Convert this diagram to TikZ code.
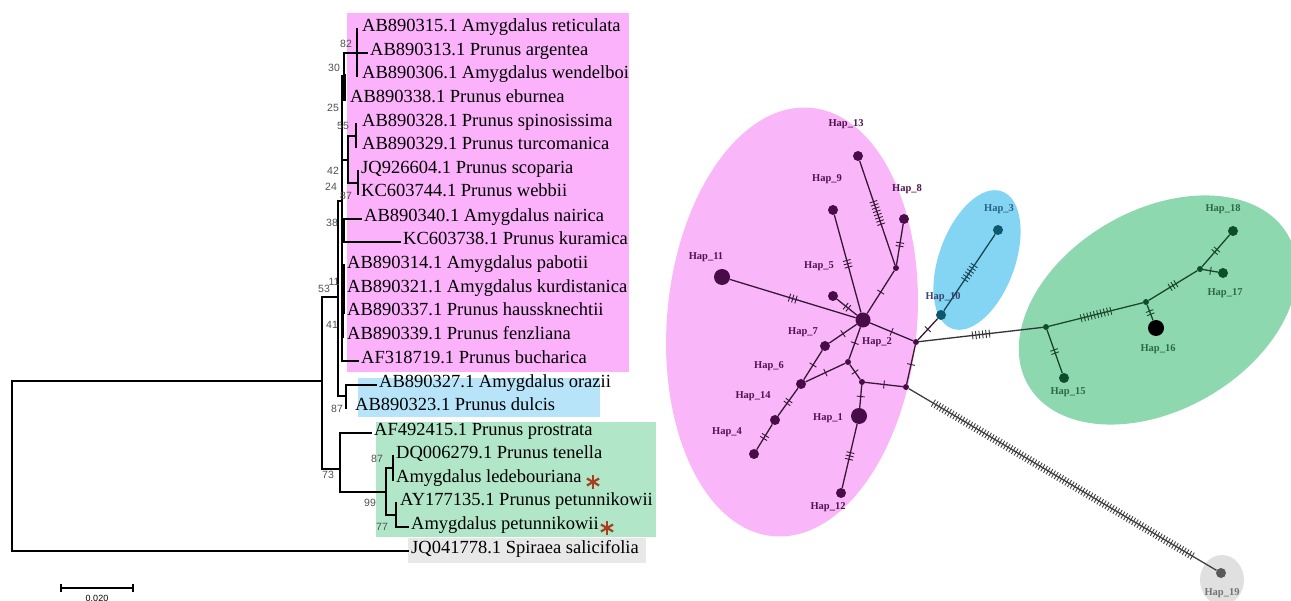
\documentclass[tikz,border=0pt]{standalone}
\usepackage{fontspec}
\setmainfont{Liberation Serif}
\newfontfamily\numfont{Liberation Sans}
\usetikzlibrary{calc,decorations.markings}
\definecolor{pinkbox}{RGB}{251,178,251}
\definecolor{bluebox}{RGB}{183,228,248}
\definecolor{greenbox}{RGB}{178,230,200}
\definecolor{graybox}{RGB}{232,232,232}
\definecolor{pinkell}{RGB}{249,182,248}
\definecolor{blueell}{RGB}{132,212,244}
\definecolor{greenell}{RGB}{142,216,176}
\definecolor{grayell}{RGB}{224,224,224}
\definecolor{nodepur}{RGB}{72,12,72}
\definecolor{edgepur}{RGB}{55,25,55}
\definecolor{labpur}{RGB}{80,20,80}
\definecolor{nodeblu}{RGB}{14,88,110}
\definecolor{labblu}{RGB}{40,100,130}
\definecolor{edgeblu}{RGB}{25,70,85}
\definecolor{nodegrn}{RGB}{14,77,44}
\definecolor{edgegrn}{RGB}{25,70,45}
\definecolor{labgrn}{RGB}{45,105,72}
\definecolor{astcol}{RGB}{168,62,32}
\definecolor{bscol}{RGB}{80,80,80}
\begin{document}
\begin{tikzpicture}[x=1pt,y=-1pt,
  leaf/.style={anchor=west, inner sep=0pt, font=\fontsize{18.5}{20}\selectfont, text height=0.68em, text depth=0.2em},
  br/.style={line width=1.6pt, line cap=rect},
  thickbr/.style={line width=3pt},
  stub/.style={shorten >=3pt},
  bs/.style={font=\numfont\fontsize{10.5}{12}\selectfont, text=bscol, inner sep=0pt},
  ast/.style={draw=astcol, line width=2.2pt},
  hap/.style={circle, fill=nodepur, inner sep=0pt, minimum size=10pt},
  bighap/.style={hap, minimum size=16pt},
  med/.style={circle, fill=nodepur, inner sep=0pt, minimum size=6pt},
  hl/.style={font=\bfseries\fontsize{10.5}{12}\selectfont, text=labpur, inner sep=0pt},
  edge/.style={draw=edgepur, line width=1.3pt},
  hatch/.style n args={3}{postaction={decorate,decoration={markings,mark=at position #2 with {\foreach \i in {1,...,#1}{\draw[#3,line width=0.9pt] ({(\i-(#1+1)/2)*3.4pt},{-4pt}) -- ({(\i-(#1+1)/2)*3.4pt},{4pt});}}}}}
]
\path[use as bounding box] (0,0) rectangle (1291,601);
\clip (0,0) rectangle (1291,601);

% ---------- tree background boxes ----------
\fill[pinkbox] (347,13) rectangle (629,372);
\fill[bluebox] (358,378) rectangle (600,417);
\fill[greenbox] (376,422) rectangle (656,537);
\fill[graybox] (408,538) rectangle (646,563);

% ---------- leaves ----------
\node[leaf] (l1) at (362,29) {AB890315.1 Amygdalus reticulata};
\node[leaf] (l2) at (370,53) {AB890313.1 Prunus argentea};
\node[leaf] (l3) at (362,76) {AB890306.1 Amygdalus wendelboi};
\node[leaf] (l4) at (350,100) {AB890338.1 Prunus eburnea};
\node[leaf] (l5) at (362,124) {AB890328.1 Prunus spinosissima};
\node[leaf] (l6) at (362,147) {AB890329.1 Prunus turcomanica};
\node[leaf] (l7) at (361,171) {JQ926604.1 Prunus scoparia};
\node[leaf] (l8) at (361,194) {KC603744.1 Prunus webbii};
\node[leaf] (l9) at (364,219) {AB890340.1 Amygdalus nairica};
\node[leaf] (l10) at (403,242) {KC603738.1 Prunus kuramica};
\node[leaf] (l11) at (347,266) {AB890314.1 Amygdalus pabotii};
\node[leaf] (l12) at (347,290) {AB890321.1 Amygdalus kurdistanica};
\node[leaf] (l13) at (347,313) {AB890337.1 Prunus haussknechtii};
\node[leaf] (l14) at (347,337) {AB890339.1 Prunus fenzliana};
\node[leaf] (l15) at (361,361) {AF318719.1 Prunus bucharica};
\node[leaf] (l16) at (379,385) {AB890327.1 Amygdalus orazii};
\node[leaf] (l17) at (355,408) {AB890323.1 Prunus dulcis};
\node[leaf] (l18) at (374,433) {AF492415.1 Prunus prostrata};
\node[leaf] (l19) at (396,456) {DQ006279.1 Prunus tenella};
\node[leaf] (l20) at (396,480) {Amygdalus ledebouriana};
\node[leaf] (l21) at (400,503) {AY177135.1 Prunus petunnikowii};
\node[leaf] (l22) at (411,527) {Amygdalus petunnikowii};
\node[leaf] (l23) at (411,551) {JQ041778.1 Spiraea salicifolia};

% ---------- internal nodes ----------
\coordinate (R) at (12,466);
\coordinate (A) at (322,381);
\coordinate (B) at (338,297);
\coordinate (C) at (342,201);
\coordinate (C1) at (344,76);
\coordinate (K) at (357,53);
\coordinate (C4) at (348,160);
\coordinate (C2) at (356,136);
\coordinate (C3) at (358,183);
\coordinate (C5) at (344,231);
\coordinate (C6) at (343,290);
\coordinate (D) at (346,396);
\coordinate (G) at (340,469);
\coordinate (P99) at (386,492);
\coordinate (N87) at (393,468);
\coordinate (N77) at (396,515);

\begin{scope}[br]
\draw (R) |- (A);
\draw[stub] (R) |- (l23.west);
\draw (A) |- (B);
\draw (A) |- (G);
\draw (B) |- (C);
\draw (B) |- (D);
\draw (C) |- (C1);
\draw (C) |- (C4);
\draw (C) |- (C5);
\draw (C) |- (C6);
\draw[stub] (C) |- (l15.west);
\draw (C1) |- (K);
\draw[thickbr] (C1) -- (C1 |- l4.west);
\draw (K) -- (K |- l1.west);
\draw[stub] (K) |- (l2.west);
\draw (K) -- (K |- l3.west);
\draw (C4) |- (C2);
\draw (C4) |- (C3);
\draw (C2) -- (C2 |- l5.west);
\draw (C2) -- (C2 |- l6.west);
\draw (C3) -- (C3 |- l7.west);
\draw (C3) -- (C3 |- l8.west);
\draw[stub] (C5) |- (l9.west);
\draw[stub] (C5) |- (l10.west);
\draw[thickbr] (C6 |- l11.west) -- (C6 |- l13.west);
\draw (C6) -- (C6 |- l11.west);
\draw (C6) -- (C6 |- l14.west);
\draw[stub] (D) |- (l16.west);
\draw (D) -- (D |- l17.west);
\draw[stub] (G) |- (l18.west);
\draw (G) |- (P99);
\draw (P99) |- (N87);
\draw (P99) |- (N77);
\draw (N87) -- (N87 |- l19.west);
\draw (N87) -- (N87 |- l20.west);
\draw (N77) -- (N77 |- l21.west);
\draw[stub] (N77) |- (l22.west);
\end{scope}

% ---------- bootstrap values ----------
\node[bs] (b1) at (346,44) {82};
\node[bs] (b2) at (334,68) {30};
\node[bs] (b3) at (333,108) {25};
\node[bs] (b4) at (343,126) {55};
\node[bs] (b5) at (333,171) {42};
\node[bs] (b6) at (331,187) {24};
\node[bs] (b7) at (346,196) {87};
\node[bs] (b8) at (332,223) {38};
\node[bs] (b9) at (334,282) {11};
\node[bs] (b10) at (324,289) {53};
\node[bs] (b11) at (332,325) {41};
\node[bs] (b12) at (337,409) {87};
\node[bs] (b13) at (328,475) {73};
\node[bs] (b14) at (377,459) {87};
\node[bs] (b15) at (370,503) {99};
\node[bs] (b16) at (382,527) {77};

% ---------- asterisks ----------
\coordinate (ast1) at (593,482);
\coordinate (ast2) at (607,528);
\foreach \c in {ast1,ast2}{
  \draw[ast] (\c) +(90:7) -- +(270:7);
  \draw[ast] (\c) +(30:7) -- +(210:7);
  \draw[ast] (\c) +(150:7) -- +(330:7);
}

% ---------- scale bar ----------
\coordinate (sb1) at (61,588);
\coordinate (sb2) at (133,588);
\draw[line width=1.2pt] (sb1) -- (sb2);
\draw[line width=1.2pt] (sb1) +(0,-4) -- +(0,4);
\draw[line width=1.2pt] (sb2) +(0,-4) -- +(0,4);
\node[font=\numfont\fontsize{9}{10}\selectfont, anchor=north, inner sep=0pt] (sbl) at (97,595) {0.020};

% ---------- network clusters ----------
\fill[pinkell, rotate around={-5:(792,322)}] (792,322) ellipse [x radius=125pt, y radius=215pt];
\fill[blueell, rotate around={70:(977,260)}] (977,260) ellipse [x radius=73pt, y radius=38pt];
\fill[greenell, rotate around={30:(1158,310)}] (1158,310) ellipse [x radius=150pt, y radius=100pt];
\fill[grayell] (1222,580) ellipse [x radius=22pt, y radius=25pt];

% ---------- network nodes ----------
\node[hap] (h13) at (858,156) {};
\node[hap] (h9) at (833,210) {};
\node[hap] (h8) at (904,219) {};
\node[med] (m1) at (896,268) {};
\node[bighap] (h11) at (722,277) {};
\node[hap] (h5) at (833,296) {};
\node[bighap, minimum size=15pt] (h2) at (863,320) {};
\node[hap, fill=nodeblu] (h10) at (941,315) {};
\node[hap] (h7) at (825,346) {};
\node[med] (m2) at (848,362) {};
\node[med] (m3) at (916,342) {};
\node[med] (m4) at (862,382) {};
\node[med] (m5) at (906,387) {};
\node[hap] (h6) at (801,384) {};
\node[hap] (h14) at (775,420) {};
\node[bighap] (h1) at (859,416) {};
\node[hap] (h4) at (754,454) {};
\node[hap] (h12) at (841,493) {};
\node[hap, fill=nodeblu] (h3) at (998,230) {};
\node[med, fill=nodegrn] (g1) at (1046,327) {};
\node[med, fill=nodegrn] (g2) at (1146,302) {};
\node[med, fill=nodegrn] (g3) at (1200,269) {};
\node[hap, fill=nodegrn] (h18) at (1233,231) {};
\node[hap, fill=nodegrn] (h17) at (1223,273) {};
\node[bighap, fill=black] (h16) at (1156,328) {};
\node[hap, fill=nodegrn] (h15) at (1064,378) {};
\node[hap, fill=black!65] (h19) at (1221,573) {};

% ---------- network edges ----------
\draw[edge, hatch={8}{0.5}{edgepur}] (h13) -- (m1);
\draw[edge, hatch={2}{0.5}{edgepur}] (h8) -- (m1);
\draw[edge, hatch={1}{0.5}{edgepur}] (m1) -- (h2);
\draw[edge, hatch={3}{0.5}{edgepur}] (h9) -- (h2);
\draw[edge, hatch={3}{0.5}{edgepur}] (h11) -- (h2);
\draw[edge, hatch={2}{0.5}{edgepur}] (h5) -- (h2);
\draw[edge, hatch={1}{0.5}{edgepur}] (h2) -- (h7);
\draw[edge, hatch={1}{0.5}{edgepur}] (h2) -- (m2);
\draw[edge, hatch={1}{0.5}{edgepur}] (h2) -- (m3);
\draw[edge, hatch={1}{0.5}{edgepur}] (h7) -- (h6);
\draw[edge, hatch={1}{0.5}{edgepur}] (m2) -- (h6);
\draw[edge, hatch={1}{0.5}{edgepur}] (m2) -- (m4);
\draw[edge, hatch={2}{0.5}{edgepur}] (h6) -- (h14);
\draw[edge, hatch={2}{0.5}{edgepur}] (h14) -- (h4);
\draw[edge, hatch={1}{0.5}{edgepur}] (m4) -- (h1);
\draw[edge, hatch={1}{0.5}{edgepur}] (m4) -- (m5);
\draw[edge, hatch={1}{0.5}{edgepur}] (m5) -- (m3);
\draw[edge, hatch={3}{0.5}{edgepur}] (h1) -- (h12);
\draw[edge, hatch={1}{0.5}{edgepur}] (m3) -- (h10);
\draw[edge, draw=edgeblu, hatch={6}{0.5}{edgeblu}] (h10) -- (h3);
\draw[edge, draw=black!80, hatch={6}{0.5}{black!80}] (m3) -- (g1);
\draw[edge, draw=edgegrn, hatch={10}{0.5}{edgegrn}] (g1) -- (g2);
\draw[edge, draw=edgegrn, hatch={2}{0.5}{edgegrn}] (g1) -- (h15);
\draw[edge, draw=edgegrn, hatch={2}{0.5}{edgegrn}] (g2) -- (h16);
\draw[edge, draw=edgegrn, hatch={3}{0.5}{edgegrn}] (g2) -- (g3);
\draw[edge, draw=edgegrn, hatch={2}{0.5}{edgegrn}] (g3) -- (h18);
\draw[edge, draw=edgegrn, hatch={1}{0.5}{edgegrn}] (g3) -- (h17);
\draw[edge, draw=black!75, postaction={decorate,decoration={markings,mark=between positions 0.08 and 0.93 step 3.1pt with {\draw[black!75,line width=0.9pt] (0,-4pt) -- (0,4pt);}}}] (m5) -- (h19);

% ---------- network labels ----------
\node[hl] (t13) at (846,124) {Hap\_13};
\node[hl] (t9) at (827,179) {Hap\_9};
\node[hl] (t8) at (907,189) {Hap\_8};
\node[hl] (t11) at (706,257) {Hap\_11};
\node[hl] (t5) at (819,266) {Hap\_5};
\node[hl] (t2) at (877,342) {Hap\_2};
\node[hl, text=labblu!60!labpur] (t10) at (943,297) {Hap\_10};
\node[hl] (t7) at (803,332) {Hap\_7};
\node[hl] (t6) at (769,366) {Hap\_6};
\node[hl] (t14) at (753,396) {Hap\_14};
\node[hl] (t1) at (828,418) {Hap\_1};
\node[hl] (t4) at (727,432) {Hap\_4};
\node[hl] (t12) at (828,507) {Hap\_12};
\node[hl, text=labblu] (t3) at (999,209) {Hap\_3};
\node[hl, text=labgrn] (t18) at (1223,209) {Hap\_18};
\node[hl, text=labgrn] (t17) at (1225,293) {Hap\_17};
\node[hl, text=labgrn] (t16) at (1158,349) {Hap\_16};
\node[hl, text=labgrn] (t15) at (1068,392) {Hap\_15};
\node[hl, text=black!55] (t19) at (1222,593) {Hap\_19};
\end{tikzpicture}
\end{document}
